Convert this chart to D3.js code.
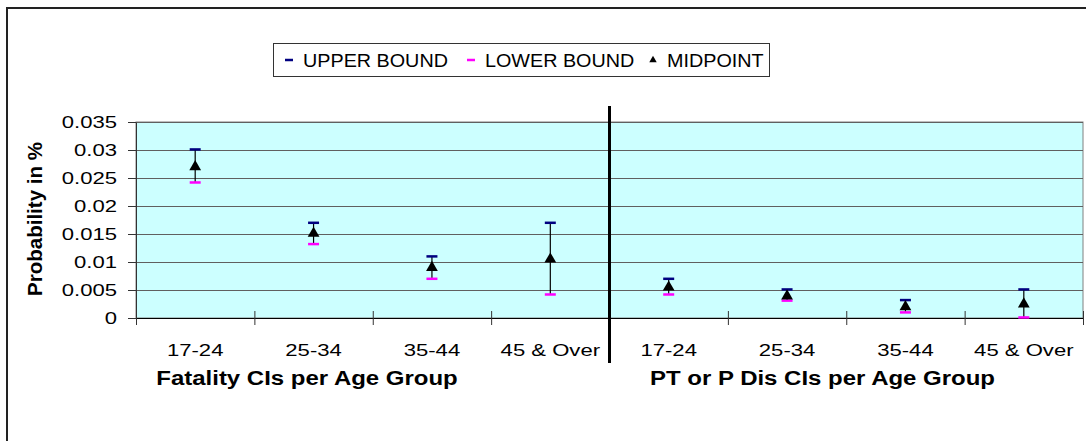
<!DOCTYPE html>
<html>
<head>
<meta charset="utf-8">
<script src="https://cdn.jsdelivr.net/npm/d3@7"></script>
<style>
  body { margin: 0; background: #fff; }
  text { font-family: "Liberation Sans", Arial, sans-serif; fill: #000; }
</style>
</head>
<body>
<script>
// chart values
var categories = ["17-24", "25-34", "35-44", "45 & Over", "17-24", "25-34", "35-44", "45 & Over"];
var upperBound = [0.0301, 0.0170, 0.0110, 0.0170, 0.0070, 0.0051, 0.0032, 0.0051];
var lowerBound = [0.0242, 0.0132, 0.0070, 0.0042, 0.0042, 0.0031, 0.0010, 0.0001];
var midpoint   = [0.0270, 0.0151, 0.0090, 0.0105, 0.0055, 0.0039, 0.0020, 0.0025];
var yTicks = [0, 0.005, 0.01, 0.015, 0.02, 0.025, 0.03, 0.035];
var legendLabels = ["UPPER BOUND", "LOWER BOUND", "MIDPOINT"];
var groupTitles = ["Fatality CIs per Age Group", "PT or P Dis CIs per Age Group"];

var width = 1086;
var height = 441;
var plot = {left: 136, right: 1083, top: 122, bottom: 318};

var svg = d3.select("body").append("svg")
    .attr("width", width)
    .attr("height", height);

// text in the original is stretched sideways
function stretch(sel, sx) {
  sel.each(function() {
    var t = d3.select(this);
    var x0 = +t.attr("x") || 0;
    t.attr("x", 0).attr("transform", "translate(" + x0 + ",0) scale(" + sx + ",1)");
  });
}

var y = d3.scaleLinear()
    .domain([0, 0.035])
    .range([plot.bottom, plot.top]);

var x = d3.scaleBand()
    .domain(d3.range(categories.length))
    .range([plot.left, plot.right]);

var xb = d3.scaleLinear()
    .domain([0, categories.length])
    .range([plot.left, plot.right]);

// outer chart border (left + top only visible)
svg.append("path")
    .attr("d", "M7," + height + "V8H" + width)
    .attr("fill", "none")
    .attr("stroke", "#222")
    .attr("stroke-width", 2);

// plot area
svg.append("rect")
    .attr("x", plot.left)
    .attr("y", plot.top)
    .attr("width", plot.right - plot.left)
    .attr("height", plot.bottom - plot.top)
    .attr("fill", "#ccffff")
    .attr("stroke", "#808080");

svg.append("g").selectAll("line")
    .data(yTicks.filter(function(d) { return d > 0; }))
    .enter().append("line")
      .attr("x1", plot.left)
      .attr("x2", plot.right)
      .attr("y1", function(d) { return Math.round(y(d)) + 0.5; })
      .attr("y2", function(d) { return Math.round(y(d)) + 0.5; })
      .attr("stroke", "#606060");

// y axis
var gy = svg.append("g")
    .attr("transform", "translate(" + plot.left + ",0)")
    .call(d3.axisLeft(y).tickValues(yTicks).tickFormat(function(d) { return String(d); })
      .tickSizeInner(8).tickSizeOuter(0).tickPadding(11));
gy.select(".domain").attr("stroke", "#333");
gy.selectAll(".tick line").attr("stroke", "#333");
gy.selectAll(".tick text")
    .attr("font-size", 17)
    .attr("font-family", "Liberation Sans, Arial, sans-serif");
stretch(gy.selectAll(".tick text"), 1.3);

// x axis: cross ticks at band boundaries
var gxt = svg.append("g")
    .attr("transform", "translate(0," + plot.bottom + ")")
    .call(d3.axisBottom(xb).ticks(categories.length).tickFormat("").tickSizeInner(7).tickSizeOuter(0));
gxt.select(".domain").attr("stroke", "#000");
gxt.selectAll(".tick line").attr("y1", -7).attr("stroke", "#333");

// x axis labels
var gx = svg.append("g")
    .attr("transform", "translate(0," + plot.bottom + ")")
    .call(d3.axisBottom(x).tickSize(0).tickPadding(26).tickFormat(function(i) { return categories[i]; }));
gx.select(".domain").remove();
gx.selectAll(".tick text")
    .attr("font-size", 17)
    .attr("font-family", "Liberation Sans, Arial, sans-serif");
stretch(gx.selectAll(".tick text"), 1.3);

// group titles
var titleX = [307, 822.5];
groupTitles.forEach(function(t, i) {
  svg.append("text")
      .attr("transform", "translate(" + titleX[i] + ",385) scale(1.23,1)")
      .attr("text-anchor", "middle")
      .attr("font-size", 19.5)
      .attr("font-weight", "bold")
      .text(t);
});

// y title
svg.append("text")
    .attr("transform", "translate(41.5,219) rotate(-90)")
    .attr("text-anchor", "middle")
    .attr("font-size", 20.5)
    .attr("font-weight", "bold")
    .text("Probability in %");

// divider between the two groups
svg.append("line")
    .attr("x1", xb(4))
    .attr("x2", xb(4))
    .attr("y1", 106)
    .attr("y2", 363)
    .attr("stroke", "#000")
    .attr("stroke-width", 3);

// error bars
var bars = svg.append("g").selectAll("g")
    .data(categories.map(function(c, i) { return i; }))
    .enter().append("g")
      .attr("transform", function(i) { return "translate(" + (x(i) + x.bandwidth() / 2) + ",0)"; });

bars.append("line")
    .attr("y1", function(i) { return y(lowerBound[i]); })
    .attr("y2", function(i) { return y(upperBound[i]); })
    .attr("stroke", "#000")
    .attr("stroke-width", 1.2);

bars.append("line")
    .attr("x1", -5.5).attr("x2", 5.5)
    .attr("y1", function(i) { return y(upperBound[i]); })
    .attr("y2", function(i) { return y(upperBound[i]); })
    .attr("stroke", "#000080")
    .attr("stroke-width", 2.5);

bars.append("line")
    .attr("x1", -5.5).attr("x2", 5.5)
    .attr("y1", function(i) { return y(lowerBound[i]); })
    .attr("y2", function(i) { return y(lowerBound[i]); })
    .attr("stroke", "#ff00ff")
    .attr("stroke-width", 2.5);

bars.append("path")
    .attr("d", d3.symbol(d3.symbolTriangle, 60))
    .attr("transform", function(i) { return "translate(0," + y(midpoint[i]) + ")"; })
    .attr("fill", "#000");

// legend
var legend = svg.append("g");
legend.append("rect")
    .attr("x", 273.5).attr("y", 43.5)
    .attr("width", 496).attr("height", 33)
    .attr("fill", "#fff")
    .attr("stroke", "#333");

var legendX = [285, 467, 649];
var legendColors = ["#000080", "#ff00ff", "#000"];
legendLabels.forEach(function(label, i) {
  if (i < 2) {
    legend.append("line")
        .attr("x1", legendX[i]).attr("x2", legendX[i] + 8)
        .attr("y1", 60).attr("y2", 60)
        .attr("stroke", legendColors[i])
        .attr("stroke-width", 2.5);
  } else {
    legend.append("path")
        .attr("d", d3.symbol(d3.symbolTriangle, 24))
        .attr("transform", "translate(" + (legendX[i] + 4) + ",60)")
        .attr("fill", legendColors[i]);
  }
  legend.append("text")
      .attr("transform", "translate(" + (legendX[i] + 18) + ",66.5) scale(1.13,1)")
      .attr("font-size", 17.5)
      .text(label);
});
</script>
</body>
</html>
